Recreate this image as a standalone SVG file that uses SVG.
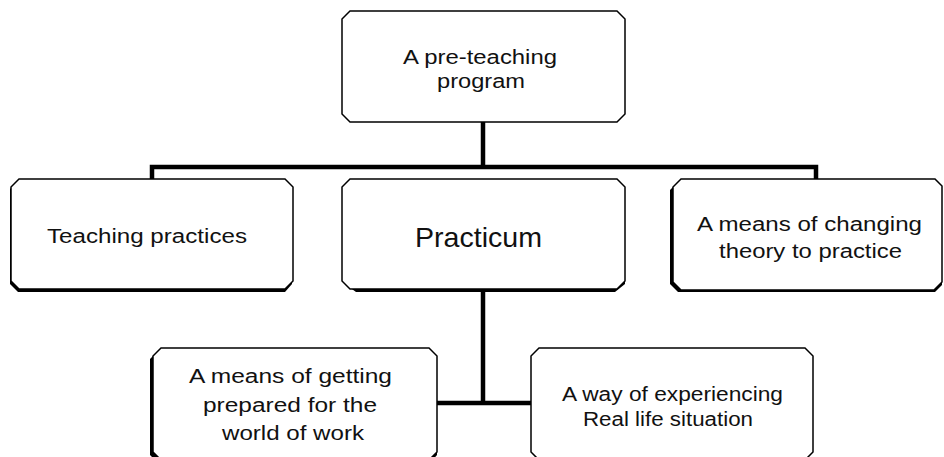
<svg xmlns="http://www.w3.org/2000/svg" width="944" height="457" viewBox="0 0 944 457">
<style>
.box{fill:#fff;stroke:#000;stroke-width:1.5}
.sh{fill:#000}
.t{font-family:"Liberation Sans",Arial,sans-serif;font-size:20px;fill:#111}
.big{font-size:28px}
.con{fill:none;stroke:#000;stroke-width:4.5}
</style>
<g id="connectors">
<path class="con" d="M483,122 V167"/>
<path class="con" d="M152,179 V167 H816 V179"/>
<path class="con" d="M483,289 V403"/>
<path class="con" d="M437,403 H531"/>
</g>
<g id="top">
<path class="box" d="M350,11 H617 L625,19 V114 L617,122 H350 L342,114 V19 Z"/>
<text class="t" x="403" y="64" textLength="154" lengthAdjust="spacingAndGlyphs">A pre-teaching</text>
<text class="t" x="437" y="88" textLength="88" lengthAdjust="spacingAndGlyphs">program</text>
</g>
<g id="teaching">
<path class="sh" d="M18,182 H285 L292,189 V284 L285,292 H18 L10,284 V189 Z"/>
<path class="box" d="M19,179 H285 L293,187 V281 L285,289 H19 L11,281 V187 Z"/>
<text class="t" x="47" y="243" textLength="200" lengthAdjust="spacingAndGlyphs">Teaching practices</text>
</g>
<g id="practicum">
<path class="sh" d="M350,182 H617 L625,190 V284 L615,292 H356 L345,284 V190 Z"/>
<path class="box" d="M350,179 H617 L625,187 V281 L617,289 H350 L342,281 V187 Z"/>
<text class="t big" x="415" y="247" textLength="127" lengthAdjust="spacingAndGlyphs">Practicum</text>
</g>
<g id="right">
<path class="sh" d="M678,182 H936 L942,188 V285 L935,292 H678 L670,284 V190 Z"/>
<path class="box" d="M681,179 H935 L942,186 V282 L934,290 H681 L673,282 V187 Z"/>
<text class="t" x="697" y="231" textLength="225" lengthAdjust="spacingAndGlyphs">A means of changing</text>
<text class="t" x="719" y="258" textLength="183" lengthAdjust="spacingAndGlyphs">theory to practice</text>
</g>
<g id="getting">
<path class="sh" d="M158,351 H430 L437,358 V455 L430,463 H158 L150,455 V359 Z"/>
<path class="box" d="M161,348 H429 L437,356 V452 L429,460 H161 L153,452 V356 Z"/>
<text class="t" x="189" y="383" textLength="203" lengthAdjust="spacingAndGlyphs">A means of getting</text>
<text class="t" x="203" y="412" textLength="174" lengthAdjust="spacingAndGlyphs">prepared for the</text>
<text class="t" x="222" y="440" textLength="142" lengthAdjust="spacingAndGlyphs">world of work</text>
</g>
<g id="experiencing">
<path class="box" d="M539,348 H805 L813,356 V452 L805,460 H539 L531,452 V356 Z"/>
<text class="t" x="562" y="401" textLength="221" lengthAdjust="spacingAndGlyphs">A way of experiencing</text>
<text class="t" x="583" y="426" textLength="170" lengthAdjust="spacingAndGlyphs">Real life situation</text>
</g>
</svg>
